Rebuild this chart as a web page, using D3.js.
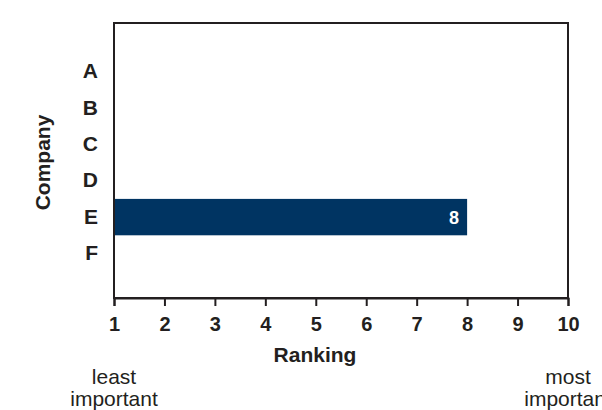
<!DOCTYPE html>
<html>
<head>
<meta charset="utf-8">
<script src="https://cdn.jsdelivr.net/npm/d3@7"></script>
<style>
  html, body { margin: 0; padding: 0; background: #ffffff; }
  svg { display: block; font-family: "Liberation Sans", Arial, Helvetica, sans-serif; }
</style>
</head>
<body>
<svg id="chart" width="602" height="410"></svg>
<script>
// Companies ranked on a 1-10 importance scale
const companies = ["A", "B", "C", "D", "E", "F"];
const rankings = [null, null, null, null, 8, null];
const rankTicks = [1, 2, 3, 4, 5, 6, 7, 8, 9, 10];
const scaleEnds = [
  { value: 1, lines: ["least", "important"] },
  { value: 10, lines: ["most", "important"] }
];

const ink = "#231f20";
const barColor = "#003462";

const plot = { left: 114, right: 568, top: 23, bottom: 298 };

const svg = d3.select("#chart");

const x = d3.scaleLinear().domain([1, 10]).range([plot.left, plot.right]);
const y = d3.scaleBand()
  .domain(companies)
  .range([plot.top + 3, plot.bottom + 1])
  .paddingInner(0)
  .paddingOuter(0.75);

const data = companies.map((c, i) => ({ company: c, value: rankings[i] }))
  .filter(d => d.value != null);

// bars
svg.append("g")
  .selectAll("rect")
  .data(data)
  .join("rect")
  .attr("x", x(1))
  .attr("y", d => y(d.company))
  .attr("width", d => x(d.value) - x(1))
  .attr("height", y.bandwidth())
  .attr("fill", barColor);

// value labels inside bar ends
svg.append("g")
  .selectAll("text")
  .data(data)
  .join("text")
  .attr("x", d => x(d.value) - 8)
  .attr("y", d => y(d.company) + y.bandwidth() / 2)
  .attr("dy", "0.36em")
  .attr("text-anchor", "end")
  .attr("fill", "#ffffff")
  .attr("font-size", 18)
  .attr("font-weight", "bold")
  .text(d => d.value);

// frame
svg.append("rect")
  .attr("x", plot.left)
  .attr("y", plot.top)
  .attr("width", plot.right - plot.left)
  .attr("height", plot.bottom - plot.top)
  .attr("fill", "none")
  .attr("stroke", ink)
  .attr("stroke-width", 2);

// x axis
const xAxis = svg.append("g")
  .attr("transform", `translate(0,${plot.bottom})`)
  .call(d3.axisBottom(x).tickValues(rankTicks).tickFormat(d3.format("d")).tickSize(8).tickPadding(11));
xAxis.select(".domain").attr("stroke", ink).attr("stroke-width", 2);
xAxis.selectAll(".tick line").attr("stroke", ink).attr("stroke-width", 2);
xAxis.selectAll(".tick text")
  .attr("fill", ink)
  .attr("font-size", 20)
  .attr("font-weight", "bold")
  .attr("font-family", "Liberation Sans, Arial, sans-serif");

// y axis
const yAxis = svg.append("g")
  .attr("transform", `translate(${plot.left},0)`)
  .call(d3.axisLeft(y).tickSize(0).tickPadding(16));
yAxis.select(".domain").remove();
yAxis.selectAll(".tick text")
  .attr("fill", ink)
  .attr("font-size", 21)
  .attr("font-weight", "bold")
  .attr("font-family", "Liberation Sans, Arial, sans-serif");

// axis titles
svg.append("text")
  .attr("x", 315)
  .attr("y", 362)
  .attr("text-anchor", "middle")
  .attr("fill", ink)
  .attr("font-size", 21)
  .attr("font-weight", "bold")
  .text("Ranking");

svg.append("text")
  .attr("transform", `translate(50,${(plot.top + plot.bottom) / 2 + 2}) rotate(-90)`)
  .attr("text-anchor", "middle")
  .attr("fill", ink)
  .attr("font-size", 21)
  .attr("font-weight", "bold")
  .text("Company");

// scale end annotations
const ends = svg.append("g")
  .selectAll("text")
  .data(scaleEnds)
  .join("text")
  .attr("x", d => x(d.value))
  .attr("y", 384)
  .attr("text-anchor", "middle")
  .attr("fill", ink)
  .attr("font-size", 21);
ends.selectAll("tspan")
  .data(d => d.lines.map(l => ({ line: l, value: d.value })))
  .join("tspan")
  .attr("x", d => x(d.value))
  .attr("dy", (d, i) => i === 0 ? 0 : 22)
  .text(d => d.line);
</script>
</body>
</html>
